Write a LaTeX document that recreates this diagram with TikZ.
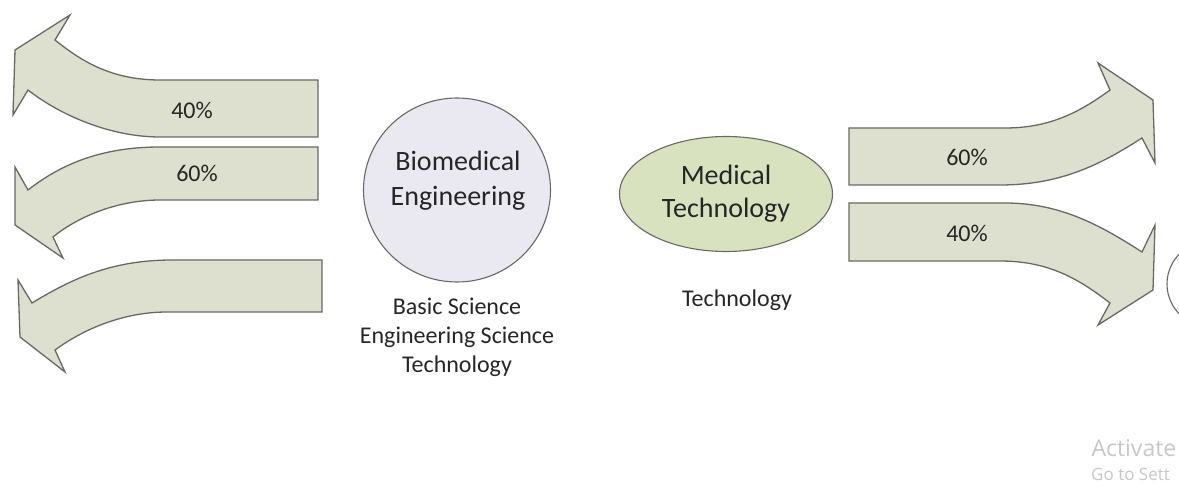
\documentclass[tikz,border=0pt]{standalone}
\usepackage{fontspec}
\setmainfont{Carlito}
\newfontfamily\winfont{Open Sans}
\usetikzlibrary{shapes.geometric}
\definecolor{flowfill}{RGB}{221,224,206}
\definecolor{flowline}{RGB}{105,105,100}
\definecolor{bmefill}{RGB}{234,232,241}
\definecolor{medfill}{RGB}{216,226,190}
\definecolor{txt}{RGB}{38,38,38}
\newcommand{\fsz}[2]{\fontsize{#1}{#2}\selectfont}

\begin{document}
\begin{tikzpicture}[x=1pt,y=-1pt,
  flow/.style={fill=flowfill,draw=flowline,line width=1.3pt,line join=miter},
  blob/.style={ellipse,draw=flowline,line width=1.1pt,inner sep=0pt},
  pct/.style={text=txt,font=\fsz{24}{29}},
  lbl/.style={text=txt,font=\fsz{24}{29},align=center}]
  \useasboundingbox (0,0) rectangle (1179,486);
  \clip (0,0) rectangle (1179,486);
  \fill[white] (0,0) rectangle (1179,486);
  % arrows to the left
  \draw[flow] (318,80) -- (160,80) .. controls (110,80) and (80,60) .. (55,40)
    -- (70,15) -- (15,50) -- (13,115) -- (28,90)
    .. controls (60,115) and (110,137) .. (160,137) -- (318,137) -- cycle;
  \draw[flow] (318,147) -- (160,147) .. controls (100,147) and (60,165) .. (28,190)
    -- (15,167) -- (15,225) -- (63,258) -- (53,237)
    .. controls (80,215) and (120,200) .. (160,200) -- (318,200) -- cycle;
  \draw[flow] (322,260) -- (172,260) .. controls (110,260) and (70,280) .. (32,303)
    -- (18,280) -- (20,337) -- (65,372) -- (55,350)
    .. controls (85,328) and (125,312) .. (167,312) -- (322,312) -- cycle;
  \node[pct] (l40) at (192,110) {40\%};
  \node[pct] (l60) at (197,173) {60\%};
  % arrows to the right
  \draw[flow] (849,128) -- (1005,128) .. controls (1050,128) and (1080,112) .. (1110,90)
    -- (1098,63) -- (1153,100) -- (1155,163) -- (1142,138)
    .. controls (1100,165) and (1060,185) .. (1000,185) -- (849,185) -- cycle;
  \draw[flow] (849,203) -- (1005,203) .. controls (1060,203) and (1100,225) .. (1142,252)
    -- (1155,225) -- (1153,290) -- (1098,325) -- (1110,303)
    .. controls (1080,280) and (1050,261) .. (1000,261) -- (849,261) -- cycle;
  \node[pct] (r60) at (967,157) {60\%};
  \node[pct] (r40) at (967,233) {40\%};
  % the fields
  \node[blob,fill=bmefill,minimum width=187,minimum height=184] (bme) at (457,190) {};
  \node[lbl,font=\fsz{28}{35}] (bmetext) at (458,181) {Biomedical\\Engineering};
  \node[blob,fill=medfill,minimum width=213,minimum height=115,lbl,font=\fsz{28}{33}]
    (med) at (726,194) {Medical\\Technology};
  \node[blob,fill=white,minimum width=96,minimum height=90] (next) at (1215,284) {};
  \node[lbl] (bmebase) at (457,337) {Basic Science\\Engineering Science\\Technology};
  \node[lbl] (medbase) at (737,300) {Technology};
  % screen watermark
  \node[anchor=west,text=black!22,font=\winfont\fsz{23}{29}] (act) at (1088,448) {Activate};
  \node[anchor=west,text=black!22,font=\winfont\fsz{17}{20},inner sep=1pt] (sett) at (1090,474) {Go to Sett};
\end{tikzpicture}
\end{document}
